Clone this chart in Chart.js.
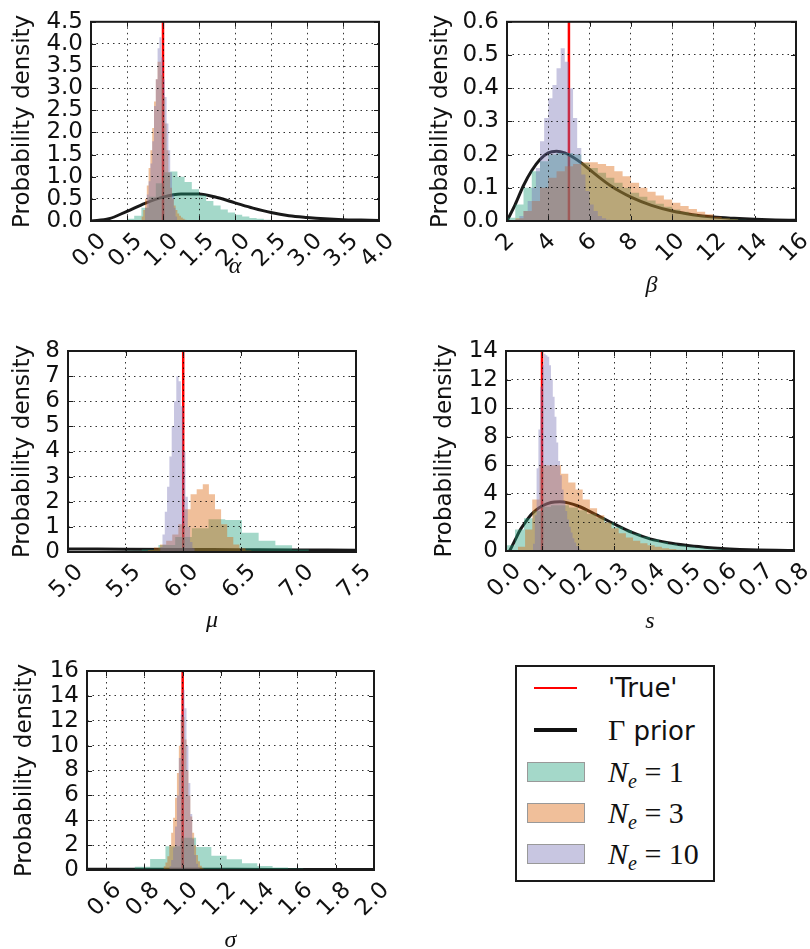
<!DOCTYPE html>
<html>
<head>
<meta charset="utf-8">
<script src="https://cdn.jsdelivr.net/npm/chart.js@4.4.1/dist/chart.umd.min.js"></script>
<style>
  html, body { margin: 0; padding: 0; background: #fff; overflow: hidden; }
  body { width: 810px; height: 949px; position: relative; font-family: "DejaVu Sans", sans-serif; color: #111; }
  canvas { position: absolute; }
  #legend { position: absolute; left: 515px; top: 665px; width: 200px; height: 217px; box-sizing: border-box; border: 2px solid #1a1a1a; background: #fff; }
  .lline { position: absolute; left: 17px; width: 43px; }
  .lbox { position: absolute; left: 10px; width: 58px; height: 20px; box-sizing: border-box; border: 1.5px solid #999; }
  .ltext { position: absolute; left: 91px; height: 30px; line-height: 30px; font-size: 26px; white-space: nowrap; }
  .m { font-family: "Liberation Serif", serif; font-size: 30px; }
  .m sub { font-size: 20px; vertical-align: -6px; }
</style>
</head>
<body>
<div id="legend">
  <div class="lline" id="legTrue" style="top:20px;height:2px"></div>
  <div class="ltext" style="top:6px">'True'</div>
  <div class="lline" id="legPrior" style="top:61px;height:4px"></div>
  <div class="ltext" style="top:48px"><span class="m">Γ</span> prior</div>
  <div class="lbox" id="legN1" style="top:95px"></div>
  <div class="ltext" style="top:90px"><span class="m"><i>N</i><sub><i>e</i></sub> = 1</span></div>
  <div class="lbox" id="legN3" style="top:136px"></div>
  <div class="ltext" style="top:131px"><span class="m"><i>N</i><sub><i>e</i></sub> = 3</span></div>
  <div class="lbox" id="legN10" style="top:177px"></div>
  <div class="ltext" style="top:172px"><span class="m"><i>N</i><sub><i>e</i></sub> = 10</span></div>
</div>
<script>
// colours (Dark2 at alpha 0.4)
const COL_N1 = 'rgba(27,158,119,0.4)';
const COL_N3 = 'rgba(217,95,2,0.4)';
const COL_N10 = 'rgba(117,112,179,0.4)';
const COL_TRUE = '#ff0000';
const COL_PRIOR = 'rgba(0,0,0,0.9)';

// ---- alpha ----
const alphaTicksX = [0, 0.5, 1, 1.5, 2, 2.5, 3, 3.5, 4];
const alphaTicksY = [0, 0.5, 1, 1.5, 2, 2.5, 3, 3.5, 4, 4.5];
const alphaTrue = 1.0;
const alphaN1Bins = [0.5, 0.1]; // first edge, bin width
const alphaN1 = [0.05, 0.12, 0.3, 0.55, 0.85, 1.1, 1.12, 1.0, 0.88, 0.72, 0.58, 0.45, 0.35, 0.26, 0.19, 0.14, 0.1, 0.07, 0.05, 0.03, 0.02];
const alphaN3Bins = [0.7, 0.025];
const alphaN3 = [0.1, 0.25, 0.5, 0.8, 1.2, 1.6, 2.1, 2.7, 3.2, 3.6, 3.6, 3.3, 2.8, 2.2, 1.6, 1.1, 0.75, 0.5, 0.35, 0.25, 0.17, 0.12, 0.08, 0.05, 0.03, 0.02];
const alphaN10Bins = [0.75, 0.025];
const alphaN10 = [0.3, 0.6, 0.9, 1.3, 1.8, 2.6, 3.2, 3.9, 4.15, 3.7, 3.2, 2.8, 2.2, 1.6, 1.1, 0.6, 0.3, 0.1];
const alphaPriorX = [0, 0.25, 0.5, 0.75, 1, 1.25, 1.5, 1.75, 2, 2.25, 2.5, 2.75, 3, 3.25, 3.5, 3.75, 4];
const alphaPriorY = [0, 0.05, 0.22, 0.4, 0.54, 0.61, 0.61, 0.53, 0.41, 0.29, 0.19, 0.12, 0.08, 0.05, 0.03, 0.02, 0.01];

// ---- beta ----
const betaTicksX = [2, 4, 6, 8, 10, 12, 14, 16];
const betaTicksY = [0, 0.1, 0.2, 0.3, 0.4, 0.5, 0.6];
const betaTrue = 5.0;
const betaN1Bins = [2.0, 0.4];
const betaN1 = [0.01, 0.05, 0.1, 0.15, 0.18, 0.2, 0.205, 0.205, 0.2, 0.175, 0.16, 0.145, 0.13, 0.115, 0.1, 0.085, 0.073, 0.062, 0.052, 0.043, 0.035, 0.028, 0.022, 0.017, 0.013, 0.01, 0.008, 0.006, 0.004, 0.003, 0.002, 0.0015, 0.001, 0.001, 0.0005];
const betaN3Bins = [2.4, 0.4];
const betaN3 = [0.008, 0.03, 0.06, 0.1, 0.13, 0.15, 0.165, 0.172, 0.177, 0.177, 0.172, 0.166, 0.15, 0.135, 0.115, 0.1, 0.088, 0.077, 0.065, 0.055, 0.045, 0.036, 0.028, 0.02, 0.013, 0.008, 0.005, 0.003, 0.002, 0.001];
const betaN10Bins = [2.4, 0.2];
const betaN10 = [0.005, 0.015, 0.03, 0.06, 0.1, 0.16, 0.24, 0.31, 0.37, 0.41, 0.46, 0.52, 0.48, 0.4, 0.31, 0.22, 0.14, 0.09, 0.05, 0.03, 0.015, 0.008, 0.004];
const betaPriorX = [2, 2.4, 2.8, 3.2, 3.6, 4, 4.4, 4.8, 5.2, 5.6, 6, 6.5, 7, 7.5, 8, 9, 10, 11, 12, 13, 14, 15, 16];
const betaPriorY = [0, 0.05, 0.107, 0.152, 0.185, 0.205, 0.21, 0.205, 0.192, 0.175, 0.155, 0.13, 0.107, 0.088, 0.072, 0.047, 0.03, 0.019, 0.012, 0.008, 0.005, 0.003, 0.002];

// ---- mu ----
const muTicksX = [5, 5.5, 6, 6.5, 7, 7.5];
const muTicksY = [0, 1, 2, 3, 4, 5, 6, 7, 8];
const muTrue = 6.0;
const muN1Bins = [5.35, 0.145];
const muN1 = [0.02, 0.05, 0.1, 0.28, 0.6, 0.95, 1.3, 1.27, 0.77, 0.45, 0.27, 0.1, 0.03];
const muN3Bins = [5.64, 0.053];
const muN3 = [0.03, 0.08, 0.18, 0.3, 0.45, 0.7, 1.1, 1.7, 2.3, 2.5, 2.7, 2.3, 1.7, 1.1, 0.6, 0.3, 0.15, 0.06];
const muN10Bins = [5.8, 0.02];
const muN10 = [0.2, 0.7, 1.6, 2.6, 3.8, 5.0, 6.0, 7.0, 6.8, 5.8, 4.0, 2.2, 1.0, 0.4, 0.15];
const muPriorX = [5, 5.5, 6, 6.5, 7, 7.5];
const muPriorY = [0.12, 0.11, 0.1, 0.09, 0.08, 0.07];

// ---- s ----
const sTicksX = [0, 0.1, 0.2, 0.3, 0.4, 0.5, 0.6, 0.7, 0.8];
const sTicksY = [0, 2, 4, 6, 8, 10, 12, 14];
const sTrue = 0.1;
const sN1Bins = [0, 0.025];
const sN1 = [0.4, 1.5, 2.3, 2.8, 3.1, 3.2, 3.2, 3.05, 2.85, 2.6, 2.35, 2.0, 1.7, 1.45, 1.2, 1.0, 0.8, 0.62, 0.48, 0.38, 0.3, 0.22, 0.16, 0.12, 0.09, 0.06, 0.04, 0.03, 0.02, 0.01];
const sN3Bins = [0.033, 0.02];
const sN3 = [0.3, 1.5, 3.6, 6.0, 6.0, 6.0, 5.4, 4.8, 4.3, 3.6, 3.0, 2.5, 2.0, 1.6, 1.25, 0.95, 0.72, 0.54, 0.4, 0.29, 0.2, 0.14, 0.09, 0.05, 0.03];
const sN10Bins = [0.075, 0.005];
const sN10 = [0.5, 2.5, 5.8, 8.5, 11.5, 13.0, 13.8, 13.7, 13.6, 13.0, 12.0, 10.8, 9.4, 7.6, 6.3, 5.3, 4.3, 3.5, 2.8, 2.2, 1.7, 1.3, 0.9, 0.6, 0.35, 0.2, 0.1];
const sPriorX = [0.01, 0.025, 0.04, 0.055, 0.07, 0.085, 0.1, 0.125, 0.15, 0.175, 0.2, 0.25, 0.3, 0.35, 0.4, 0.45, 0.5, 0.55, 0.6, 0.65, 0.7, 0.75, 0.8];
const sPriorY = [0, 0.75, 1.5, 2.05, 2.55, 2.9, 3.15, 3.4, 3.45, 3.35, 3.15, 2.55, 1.9, 1.3, 0.85, 0.58, 0.4, 0.27, 0.17, 0.11, 0.07, 0.045, 0.03];

// ---- sigma ----
const sigTicksX = [0.6, 0.8, 1.0, 1.2, 1.4, 1.6, 1.8, 2.0];
const sigTicksY = [0, 2, 4, 6, 8, 10, 12, 14, 16];
const sigTrue = 1.0;
const sigN1Bins = [0.51, 0.08];
const sigN1 = [0.02, 0.04, 0.1, 0.27, 0.88, 1.9, 2.6, 1.85, 1.15, 0.86, 0.54, 0.32, 0.21, 0.13, 0.08, 0.05, 0.03, 0.02, 0.01];
const sigN3Bins = [0.9, 0.01];
const sigN3 = [0.3, 0.6, 1.1, 2.0, 3.0, 4.2, 5.8, 7.8, 10, 12, 12.3, 10.5, 8, 6, 4.3, 3.0, 2.0, 1.2, 0.7, 0.35, 0.15];
const sigN10Bins = [0.93, 0.01];
const sigN10 = [0.3, 0.8, 1.8, 3.5, 6.0, 9.0, 12.5, 14.5, 13.0, 10.0, 7.0, 4.5, 2.5, 1.2, 0.5, 0.2];
const sigPriorX = [0.5, 1, 1.5, 2];
const sigPriorY = [0.06, 0.06, 0.05, 0.05];

Chart.defaults.font.family = '"DejaVu Sans", sans-serif';
Chart.defaults.color = '#111';

const TICK_FONT = 23;
const LABEL_FONT = 23;

// step outline of a histogram: each bin holds its height up to the next edge
function steps(bins, heights) {
    const lo = bins[0], w = bins[1];
    const pts = heights.map((h, i) => ({ x: lo + i * w, y: h }));
    pts.push({ x: lo + heights.length * w, y: 0 });
    return pts;
}

function curve(xs, ys) {
    return xs.map((x, i) => ({ x: x, y: ys[i] }));
}

// frame, inward ticks and 45 degree x labels (matplotlib classic look)
const framePlugin = {
    id: 'frame',
    afterDraw(chart, args, opts) {
        const { ctx, chartArea: a, scales: { x, y } } = chart;
        ctx.save();
        ctx.strokeStyle = '#1a1a1a';
        ctx.lineWidth = 1;
        ctx.beginPath();
        x.ticks.forEach(t => {
            const p = Math.round(x.getPixelForValue(t.value)) + 0.5;
            ctx.moveTo(p, a.bottom); ctx.lineTo(p, a.bottom - 5);
            ctx.moveTo(p, a.top); ctx.lineTo(p, a.top + 5);
        });
        y.ticks.forEach(t => {
            const p = Math.round(y.getPixelForValue(t.value)) + 0.5;
            ctx.moveTo(a.left, p); ctx.lineTo(a.left + 5, p);
            ctx.moveTo(a.right, p); ctx.lineTo(a.right - 5, p);
        });
        ctx.stroke();
        ctx.lineWidth = 2;
        ctx.strokeRect(a.left, a.top, a.right - a.left, a.bottom - a.top);

        const f = TICK_FONT;
        ctx.font = f + 'px "DejaVu Sans"';
        ctx.fillStyle = '#111';
        ctx.textAlign = 'center';
        ctx.textBaseline = 'alphabetic';
        x.ticks.forEach(t => {
            const label = t.value.toFixed(opts.xDec);
            const px = x.getPixelForValue(t.value);
            const L = ctx.measureText(label).width;
            const half = (L + 0.73 * f) * 0.3536;
            ctx.save();
            ctx.translate(px - 3, a.bottom + 9 + half);
            ctx.rotate(-Math.PI / 4);
            ctx.fillText(label, 0, 0.365 * f);
            ctx.restore();
        });
        ctx.restore();
    }
};

const panels = [
    { box: [0, 0, 405, 310], plot: [91, 20, 379, 221], title: 'α', titleY: 267, yTitleX: 23,
      x: [0, 4], y: [0, 4.5], tx: alphaTicksX, ty: alphaTicksY, xDec: 1, yDec: 1, truth: alphaTrue,
      prior: curve(alphaPriorX, alphaPriorY),
      n1: steps(alphaN1Bins, alphaN1), n3: steps(alphaN3Bins, alphaN3), n10: steps(alphaN10Bins, alphaN10) },
    { box: [405, 0, 405, 310], plot: [507, 20, 796, 221], title: 'β', titleY: 286, yTitleX: 441,
      x: [2, 16], y: [0, 0.6], tx: betaTicksX, ty: betaTicksY, xDec: 0, yDec: 1, truth: betaTrue,
      prior: curve(betaPriorX, betaPriorY),
      n1: steps(betaN1Bins, betaN1), n3: steps(betaN3Bins, betaN3), n10: steps(betaN10Bins, betaN10) },
    { box: [0, 300, 405, 340], plot: [68, 351, 356, 552], title: 'μ', titleY: 621, yTitleX: 23,
      x: [5, 7.5], y: [0, 8], tx: muTicksX, ty: muTicksY, xDec: 1, yDec: 0, truth: muTrue,
      prior: curve(muPriorX, muPriorY),
      n1: steps(muN1Bins, muN1), n3: steps(muN3Bins, muN3), n10: steps(muN10Bins, muN10) },
    { box: [405, 300, 405, 340], plot: [506, 351, 794, 551], title: 's', titleY: 622, yTitleX: 445,
      x: [0, 0.8], y: [0, 14], tx: sTicksX, ty: sTicksY, xDec: 1, yDec: 0, truth: sTrue,
      prior: curve(sPriorX, sPriorY),
      n1: steps(sN1Bins, sN1), n3: steps(sN3Bins, sN3), n10: steps(sN10Bins, sN10) },
    { box: [0, 620, 405, 329], plot: [87, 671, 374, 870], title: 'σ', titleY: 941, yTitleX: 25,
      x: [0.5, 2.0], y: [0, 16], tx: sigTicksX, ty: sigTicksY, xDec: 1, yDec: 0, truth: sigTrue,
      prior: curve(sigPriorX, sigPriorY),
      n1: steps(sigN1Bins, sigN1), n3: steps(sigN3Bins, sigN3), n10: steps(sigN10Bins, sigN10) }
];

function histSet(data, color, order) {
    return { data: data, stepped: true, fill: 'origin', backgroundColor: color,
             borderColor: 'transparent', borderWidth: 0, pointRadius: 0, order: order };
}

panels.forEach(p => {
    const [bl, bt, bw, bh] = p.box;
    const [L, T, R, B] = p.plot;
    const cv = document.createElement('canvas');
    cv.width = bw; cv.height = bh;
    cv.style.left = bl + 'px'; cv.style.top = bt + 'px';
    document.body.appendChild(cv);

    const gridOpts = { color: 'rgba(0,0,0,0.8)', lineWidth: 1, drawTicks: false, z: 1 };
    const borderOpts = { display: false, dash: [1.5, 4] };

    new Chart(cv, {
        type: 'line',
        data: {
            datasets: [
                histSet(p.n10, COL_N10, 1),
                histSet(p.n3, COL_N3, 2),
                histSet(p.n1, COL_N1, 3),
                { data: p.prior, borderColor: COL_PRIOR, borderWidth: 3, pointRadius: 0,
                  cubicInterpolationMode: 'monotone', fill: false, order: 4 },
                { data: [{ x: p.truth, y: p.y[0] }, { x: p.truth, y: p.y[1] }], borderColor: COL_TRUE,
                  borderWidth: 2.5, pointRadius: 0, fill: false, order: 5 }
            ]
        },
        options: {
            responsive: false,
            animation: false,
            devicePixelRatio: 1,
            events: [],
            layout: { padding: { left: 0, top: T - bt, right: bl + bw - R, bottom: 0 } },
            plugins: { legend: { display: false }, tooltip: { enabled: false }, frame: { xDec: p.xDec } },
            scales: {
                x: {
                    type: 'linear', min: p.x[0], max: p.x[1],
                    afterBuildTicks: s => { s.ticks = p.tx.map(v => ({ value: v })); },
                    afterFit: s => { s.height = bt + bh - B; },
                    ticks: { display: false },
                    grid: gridOpts, border: borderOpts,
                    title: { display: true, text: p.title, color: '#111',
                             font: { family: '"Liberation Serif", serif', style: 'italic', size: 24, lineHeight: 1 },
                             padding: { top: 0, bottom: bt + bh - p.titleY - 12 } }
                },
                y: {
                    type: 'linear', min: p.y[0], max: p.y[1],
                    afterBuildTicks: s => { s.ticks = p.ty.map(v => ({ value: v })); },
                    afterFit: s => { s.width = L - bl; },
                    ticks: { autoSkip: false, padding: 8, color: '#111',
                             font: { size: TICK_FONT }, callback: v => v.toFixed(p.yDec) },
                    grid: gridOpts, border: borderOpts,
                    title: { display: true, text: 'Probability density', color: '#111',
                             font: { size: LABEL_FONT, lineHeight: 1 },
                             padding: { top: p.yTitleX - bl - LABEL_FONT / 2, bottom: 0 } }
                }
            }
        },
        plugins: [framePlugin]
    });
});

document.getElementById('legTrue').style.background = COL_TRUE;
document.getElementById('legPrior').style.background = '#111';
document.getElementById('legN1').style.background = COL_N1;
document.getElementById('legN3').style.background = COL_N3;
document.getElementById('legN10').style.background = COL_N10;
</script>
</body>
</html>
